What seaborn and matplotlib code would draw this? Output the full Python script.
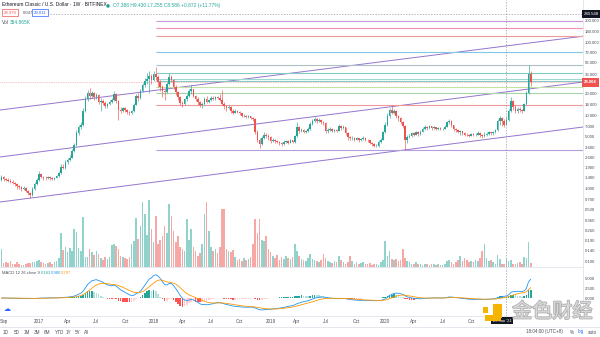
import numpy as np
import pandas as pd
import matplotlib
matplotlib.use("Agg")
import matplotlib.pyplot as plt
import matplotlib.transforms as mtransforms
import matplotlib.patheffects as pe
from matplotlib.patches import Rectangle
from matplotlib.ticker import NullLocator
import seaborn as sns

# ---------------- weekly ETC/USD candles (Bitfinex) ----------------
first_week = "2016-09-05"
first_open = 1.30
close = [
    1.42, 1.32, 1.30, 1.26, 1.22, 1.18, 1.12, 1.05, 1.02, 0.98,
    1.00, 0.92, 0.85, 0.80, 0.98, 1.15, 1.28, 1.55, 1.42, 1.38,
    1.36, 1.40, 1.35, 1.32, 1.38, 1.45, 1.62, 1.95, 1.90, 2.25,
    2.45, 2.60, 3.20, 3.90, 5.60, 6.90, 7.20, 11.5, 16.5, 20.0,
    18.5, 19.8, 17.5, 18.8, 15.0, 15.8, 14.8, 13.2, 14.0, 15.2,
    16.0, 19.5, 15.6, 11.8, 11.5, 12.4, 11.6, 10.9, 10.6, 11.2,
    13.8, 18.5, 17.0, 21.0, 25.5, 29.0, 31.5, 34.0, 30.5, 36.0,
    33.0, 28.5, 24.5, 21.0, 20.5, 27.0, 33.0, 30.0, 24.0, 20.5,
    17.5, 14.5, 14.0, 16.5, 18.5, 21.0, 22.5, 18.5, 16.8, 15.0,
    13.5, 14.2, 16.5, 15.2, 16.0, 17.2, 16.6, 17.8, 17.0, 16.2,
    14.0, 13.2, 12.5, 12.8, 11.5, 10.8, 11.3, 11.0, 10.5, 9.8,
    9.8, 9.5, 9.6, 9.2, 8.8, 5.8, 4.6, 4.0, 4.9, 5.4,
    5.2, 5.0, 4.4, 4.6, 4.4, 4.3, 4.2, 4.0, 4.3, 4.4,
    4.2, 4.5, 4.3, 5.1, 6.8, 6.1, 6.3, 5.9, 6.0, 6.4,
    7.6, 8.4, 8.9, 8.2, 8.5, 8.0, 7.8, 6.0, 6.2, 6.5,
    6.0, 6.2, 6.1, 7.0, 6.6, 6.8, 5.6, 5.0, 4.8, 4.9,
    4.6, 4.8, 4.5, 4.7, 4.9, 4.6, 4.5, 4.2, 4.0, 3.8,
    3.8, 4.3, 4.6, 5.8, 7.2, 9.8, 11.8, 10.8, 11.2, 9.6,
    9.0, 8.0, 7.0, 4.6, 5.0, 5.2, 5.6, 5.4, 5.8, 5.5,
    5.9, 6.4, 6.9, 6.6, 7.0, 6.6, 6.8, 6.5, 6.7, 6.4,
    6.5, 6.9, 7.9, 8.3, 7.2, 6.4, 6.2, 5.9, 6.0, 5.6,
    5.4, 5.3, 5.2, 5.5, 5.3, 5.4, 5.7, 5.3, 5.1, 5.4,
    5.5, 5.8, 5.6, 5.9, 6.3, 8.2, 9.0, 8.4, 7.388, 8.586,
    11.5, 15.5, 13.0, 11.2, 12.2, 11.8, 11.4, 14.0, 20.0, 36.0, 28.004,
]
high = [
    1.50, 1.46, 1.38, 1.35, 1.31, 1.27, 1.22, 1.16, 1.10, 1.06,
    1.05, 1.03, 0.95, 0.88, 1.02, 1.20, 1.35, 1.72, 1.60, 1.48,
    1.44, 1.46, 1.44, 1.40, 1.43, 1.52, 1.70, 2.10, 2.15, 2.40,
    2.60, 2.80, 3.40, 4.20, 6.20, 7.40, 8.00, 12.5, 18.0, 22.0,
    23.5, 21.5, 20.5, 20.0, 19.5, 17.0, 16.5, 15.5, 14.8, 16.0,
    17.0, 21.0, 20.0, 16.0, 12.8, 13.0, 12.8, 12.0, 11.4, 11.8,
    14.5, 19.5, 20.0, 22.5, 27.5, 32.0, 38.0, 40.0, 36.0, 40.0,
    46.0, 35.0, 30.0, 26.0, 23.0, 28.5, 38.0, 35.0, 31.0, 25.5,
    21.5, 18.5, 15.5, 17.2, 19.5, 22.5, 25.5, 23.0, 19.0, 17.5,
    15.5, 15.0, 17.8, 18.5, 16.8, 18.0, 18.2, 18.5, 18.5, 19.5,
    22.0, 15.0, 13.8, 13.5, 13.2, 11.9, 11.9, 11.7, 11.4, 10.8,
    10.2, 10.1, 9.9, 9.8, 9.5, 9.0, 6.2, 4.8, 5.2, 5.8,
    5.7, 5.5, 5.1, 4.8, 4.7, 4.5, 4.4, 4.3, 4.5, 4.6,
    4.6, 4.7, 4.6, 5.4, 8.0, 7.0, 6.7, 6.4, 6.3, 6.8,
    8.0, 8.9, 9.5, 9.2, 9.0, 8.8, 8.4, 8.0, 6.6, 6.9,
    6.7, 6.5, 6.4, 7.5, 7.2, 7.3, 6.9, 5.8, 5.2, 5.1,
    5.0, 5.0, 4.9, 4.9, 5.1, 5.0, 4.7, 4.6, 4.3, 4.1,
    4.0, 4.5, 4.8, 6.0, 8.0, 10.5, 12.5, 13.5, 12.2, 11.6,
    10.0, 9.4, 8.3, 7.2, 5.3, 5.5, 5.9, 5.8, 6.1, 6.0,
    6.2, 6.8, 7.4, 7.1, 7.3, 7.1, 7.0, 6.9, 6.9, 6.8,
    6.7, 7.2, 8.4, 8.9, 8.5, 7.4, 6.6, 6.4, 6.3, 6.1,
    5.8, 5.6, 5.5, 5.7, 5.6, 5.6, 6.0, 5.9, 5.5, 5.8,
    5.9, 6.1, 5.9, 6.1, 6.5, 8.8, 9.6, 9.5, 8.7, 9.430,
    12.2, 17.6, 16.0, 13.6, 13.0, 12.8, 12.2, 14.6, 21.0, 48.0, 40.0,
]
low = [
    1.25, 1.26, 1.24, 1.20, 1.17, 1.12, 1.06, 0.98, 0.96, 0.92,
    0.94, 0.88, 0.80, 0.74, 0.78, 0.95, 1.10, 1.24, 1.36, 1.30,
    1.30, 1.32, 1.30, 1.28, 1.29, 1.35, 1.42, 1.58, 1.80, 1.85,
    2.15, 2.35, 2.55, 3.10, 3.80, 5.40, 6.50, 7.00, 11.0, 15.5,
    16.5, 17.0, 16.0, 16.5, 14.0, 11.5, 13.8, 12.5, 12.6, 13.5,
    14.8, 15.5, 14.8, 8.5, 10.5, 11.0, 11.0, 10.3, 10.1, 10.3,
    11.0, 13.5, 15.5, 16.5, 20.5, 24.5, 27.0, 20.0, 27.0, 29.5,
    30.0, 24.5, 21.5, 17.5, 16.0, 20.0, 26.0, 28.0, 23.0, 19.0,
    16.0, 13.8, 13.0, 13.5, 15.8, 17.8, 19.5, 17.5, 15.5, 13.8,
    12.8, 12.6, 13.8, 14.5, 14.6, 15.5, 16.0, 16.2, 16.4, 15.5,
    13.5, 12.0, 11.5, 12.0, 10.8, 10.2, 10.5, 10.6, 10.0, 9.4,
    9.4, 9.2, 9.2, 8.9, 8.4, 5.5, 4.3, 3.5, 3.9, 4.7,
    4.8, 4.6, 4.2, 4.3, 4.2, 4.1, 3.9, 3.8, 3.9, 4.1,
    4.0, 4.1, 4.2, 4.2, 5.0, 5.6, 5.8, 5.6, 5.6, 5.8,
    6.2, 7.3, 8.0, 7.8, 7.9, 7.6, 7.3, 5.6, 5.6, 6.0,
    5.8, 5.8, 5.8, 6.0, 6.3, 6.4, 5.3, 4.6, 4.5, 4.6,
    4.4, 4.5, 4.3, 4.4, 4.6, 4.4, 4.3, 4.0, 3.8, 3.6,
    3.6, 3.7, 4.2, 4.5, 5.6, 7.0, 9.2, 10.2, 10.2, 9.0,
    8.3, 7.6, 6.6, 3.3, 4.2, 4.8, 5.0, 5.1, 5.3, 5.2,
    5.4, 5.8, 6.2, 6.3, 6.5, 6.3, 6.4, 6.3, 6.3, 6.2,
    6.2, 6.4, 6.8, 7.6, 6.9, 6.1, 5.9, 5.6, 5.4, 5.3,
    5.1, 5.1, 5.0, 5.1, 5.1, 5.1, 5.3, 5.0, 4.8, 5.0,
    5.2, 5.3, 5.3, 5.4, 5.7, 6.1, 7.4, 7.0, 6.8, 7.255,
    8.3, 11.0, 11.6, 10.6, 10.8, 11.0, 10.8, 11.2, 13.5, 19.5, 25.0,
]
volume_k = [
    780, 160, 220, 170, 260, 140, 120, 200, 150, 110,
    90, 130, 170, 160, 240, 200, 260, 320, 210, 180,
    150, 170, 200, 150, 230, 280, 380, 1500, 760, 900,
    650, 820, 720, 1680, 1560, 850, 700, 2200, 460, 440,
    800, 650, 520, 700, 560, 380, 300, 420, 350, 460,
    980, 1020, 940, 800, 500, 420, 380, 350, 460, 1000,
    1150, 2150, 1230, 1800, 2850, 2330, 1400, 2950, 1670, 1100,
    2250, 1000, 1200, 1360, 1800, 1500, 2770, 2250, 1580, 1100,
    1360, 900, 800, 700, 2100, 1200, 1670, 880, 700, 500,
    600, 1000, 2330, 2850, 1580, 900, 700, 800, 600, 900,
    2550, 2550, 800, 700, 660, 750, 450, 300, 350, 250,
    400, 300, 350, 450, 1000, 2100, 1500, 2100, 1200, 1150,
    1360, 800, 650, 500, 400, 550, 300, 450, 350, 500,
    400, 350, 450, 1000, 700, 500, 350, 300, 250, 400,
    560, 350, 300, 250, 200, 300, 560, 400, 250, 200,
    180, 250, 200, 480, 300, 200, 150, 200, 480, 250,
    150, 200, 130, 180, 220, 150, 120, 180, 100, 150,
    120, 100, 200, 300, 1150, 500, 700, 350, 300, 350,
    250, 300, 800, 400, 250, 200, 150, 120, 200, 150,
    130, 100, 150, 120, 100, 150, 130, 100, 120, 90,
    100, 150, 260, 300, 200, 150, 200, 300, 480, 250,
    400, 300, 200, 250, 220, 300, 250, 400, 700, 1000,
    400, 250, 300, 200, 150, 550, 350, 150, 120, 354.865,
    250, 300, 150, 120, 160, 200, 150, 450, 400, 1100, 180,
]

# crosshair bar and its readouts
cross_idx = 229
cross_price = 240.548
legend_ohlc = "O7.388 H9.430 L7.255 C8.586 +0.872 (+11.77%)"
legend_vol = "354.865K"
macd_readout = ["0.183", "0.980", "0.797"]
bid_ask = ["28.970", "0.047", "29.011"]

# drawn levels (start at the Jan-2018 top) and the parallel channel
level_start = 70
level_prices = [191, 155, 119, 74, 48.4, 37.6, 31.0, 29.3, 24.2, 20.0, 13.7, 3.31]
level_colors = ["#ce93d8", "#f48fb1", "#ef9a9a", "#81c8e6", "#b0bec5", "#80cbc4",
                "#9fd8d2", "#80cbc4", "#c5e1a5", "#a5d6a7", "#ef9a9a", "#b39ddb"]
channel_x = [-0.7, 263.7]
channel_upper = [11.7, 120.0]
channel_mid = [2.66, 28.3]
channel_low = [0.643, 6.85]

price_ticks = [200, 140, 100, 72, 52, 36, 20, 14, 10, 7, 5, 3.6, 2.6, 1.9, 1.4,
               1.0, 0.7, 0.5, 0.36, 0.26, 0.19, 0.14, 0.1]
macd_ticks = [5.0, 2.5, 0.0]

# ---------------- styling ----------------
sns.set_theme(style="white")
plt.rcParams["font.family"] = ["Liberation Sans", "Noto Sans CJK SC", "DejaVu Sans"]
UP, DN = "#26a69a", "#ef5350"
TXT = "#4a4e5a"
GRID = "#e0e3eb"

W, H = 600, 337
fig = plt.figure(figsize=(W / 100, H / 100), dpi=100)
fig.patch.set_facecolor("white")


def fx(px):
    return px / W


def fy(py):
    return 1 - py / H


main_rect = [0, fy(267), fx(583), fy(0) - fy(267)]
macd_rect = [0, fy(316), fx(583), fy(268) - fy(316)]
axv = fig.add_axes(main_rect)
ax = fig.add_axes(main_rect, sharex=axv)
axm = fig.add_axes(macd_rect, sharex=axv)
ax.patch.set_visible(False)

n = len(close)
idx = np.arange(n)
c = np.array(close)
o = np.r_[first_open, c[:-1]]
hi = np.array(high)
lo = np.array(low)
is_up = c >= o
col = np.where(is_up, UP, DN)
weeks = pd.date_range(first_week, periods=n, freq="W-MON")

XMIN, XMAX = -0.68, 263.7
axv.set_xlim(XMIN, XMAX)

# volume, underneath the candles
vol_col = [(0.149, 0.651, 0.604, 0.5) if u else (0.937, 0.325, 0.314, 0.5) for u in is_up]
axv.bar(idx, volume_k, width=0.72, color=vol_col, linewidth=0)
axv.set_ylim(0, 11750)
axv.set_axis_off()

# price pane
ax.set_yscale("log")
ax.set_ylim(0.0828, 376.1)
for xs, ys in [(channel_x, channel_upper), (channel_x, channel_mid), (channel_x, channel_low)]:
    ax.plot(xs, ys, color="#9575cd", lw=0.7, zorder=2)
ax.hlines(level_prices, level_start, XMAX, colors=level_colors, lw=0.8, zorder=2)
ax.axhline(close[-1], color=DN, lw=0.5, ls=(0, (1, 1.5)), alpha=0.7, zorder=2)
ax.hlines(cross_price, 22, XMAX, colors="#9598a1", lw=0.5, linestyles=(0, (2, 2)), zorder=2)
ax.vlines(idx, lo, hi, colors=col, linewidth=0.45, zorder=3)
ax.bar(idx, np.abs(c - o), bottom=np.minimum(o, c), width=0.72, color=col, linewidth=0, zorder=4)

LAB = 3.1
ax.yaxis.tick_right()
ax.set_yticks(price_ticks)
ax.set_yticklabels([f"{p:.3f}" for p in price_ticks])
ax.yaxis.set_minor_locator(NullLocator())
ax.tick_params(axis="y", length=0, pad=1.2, labelsize=LAB, labelcolor=TXT)
ax.tick_params(axis="x", bottom=False, labelbottom=False)
for s in ["top", "left"]:
    ax.spines[s].set_visible(False)
for s in ["right", "bottom"]:
    ax.spines[s].set_color(GRID)
    ax.spines[s].set_linewidth(0.6)
ax.grid(False)

# MACD pane
s_close = pd.Series(c)
ema12 = s_close.ewm(span=12, adjust=False).mean()
ema26 = s_close.ewm(span=26, adjust=False).mean()
macd = (ema12 - ema26).to_numpy()
signal = pd.Series(macd).ewm(span=9, adjust=False).mean().to_numpy()
hist = macd - signal
prev = np.r_[hist[0], hist[:-1]]
hist_col = np.where(hist >= 0, np.where(hist >= prev, "#26a69a", "#b2dfdb"),
                    np.where(hist < prev, "#ff5252", "#ffcdd2"))
axm.bar(idx, hist, width=0.72, color=hist_col, linewidth=0)
sns.lineplot(x=idx, y=macd, ax=axm, color="#2196f3", linewidth=0.6, legend=False)
sns.lineplot(x=idx, y=signal, ax=axm, color="#ff9800", linewidth=0.6, legend=False)
axm.set_ylim(-4.5, 7.5)
axm.yaxis.tick_right()
axm.set_yticks(macd_ticks)
axm.set_yticklabels([f"{v:.3f}" for v in macd_ticks])
axm.tick_params(axis="y", length=0, pad=1.2, labelsize=LAB, labelcolor=TXT)
for s in ["top", "left"]:
    axm.spines[s].set_visible(False)
for s in ["right", "bottom"]:
    axm.spines[s].set_color(GRID)
    axm.spines[s].set_linewidth(0.6)
axm.set_ylabel("")
axm.grid(False)

# time axis: quarter months, years in place of January (the last ones sit under the crosshair tag)
tick_pos, tick_lab = [1], ["Sep"]
for i in range(8, n):
    d, dp = weeks[i], weeks[i - 1]
    if d.month != dp.month and d.month in (1, 4, 7, 10) and i < cross_idx - 6:
        tick_pos.append(i)
        tick_lab.append(str(d.year) if d.month == 1 else d.strftime("%b"))
axm.set_xticks(tick_pos)
axm.set_xticklabels(tick_lab)
axm.tick_params(axis="x", length=0, pad=2.2, labelsize=LAB + 0.2, labelcolor=TXT)
axm.set_xlim(XMIN, XMAX)

# crosshair
for a in (ax, axm):
    a.axvline(cross_idx, color="#9598a1", lw=0.5, ls=(0, (2, 2)), zorder=5)

# ---------------- legends ----------------
fs = 3.5
fig.text(fx(2), fy(5), "Ethereum Classic / U.S. Dollar \u00b7 1W \u00b7 BITFINEX", fontsize=fs,
         color="#131722", va="center")
fig.text(fx(106), fy(5), "\u25cf", fontsize=3.3, color=UP, va="center", family="DejaVu Sans")
fig.text(fx(113), fy(5), legend_ohlc, fontsize=fs, color=UP, va="center")
fig.text(fx(4), fy(12.5), bid_ask[0], fontsize=3.1, color=DN, va="center",
         bbox=dict(boxstyle="square,pad=0.35", fc="white", ec=DN, lw=0.5))
fig.text(fx(23), fy(12.5), bid_ask[1], fontsize=3.1, color=TXT, va="center")
fig.text(fx(34), fy(12.5), bid_ask[2], fontsize=3.1, color="#2962ff", va="center",
         bbox=dict(boxstyle="square,pad=0.35", fc="white", ec="#2962ff", lw=0.5))
fig.text(fx(2), fy(22.5), "Vol", fontsize=fs, color=TXT, va="center")
fig.text(fx(10), fy(22.5), legend_vol, fontsize=fs, color=UP, va="center")
fig.text(fx(2), fy(273), "MACD 12 26 close 9", fontsize=3.0, color=TXT, va="center")
for xpx, val, cc in zip([41, 51, 61], macd_readout, ["#26a69a", "#2196f3", "#ff9800"]):
    fig.text(fx(xpx), fy(273), val, fontsize=3.0, color=cc, va="center")

# price tags on the right scale
tag_tf = mtransforms.blended_transform_factory(fig.transFigure, ax.transData)
ax.text(fx(584), close[-1], f"{close[-1]:.3f}", transform=tag_tf, fontsize=3.1, color="white",
        fontweight="bold", va="center", ha="left", clip_on=False,
        bbox=dict(boxstyle="square,pad=0.5", fc=DN, ec="none"))
ax.text(fx(584), cross_price, f"{cross_price:.3f}", transform=tag_tf, fontsize=3.1, color="white",
        va="center", ha="left", clip_on=False,
        bbox=dict(boxstyle="square,pad=0.45", fc="#131722", ec="none"))

# crosshair date tag, partly under the publisher mark
date_tf = mtransforms.blended_transform_factory(axm.transData, fig.transFigure)
axm.text(cross_idx - 2, fy(320.5), weeks[cross_idx].strftime("%d %b '%y"), transform=date_tf,
         fontsize=3.0, color="white", ha="center", va="center", clip_on=False,
         bbox=dict(boxstyle="square,pad=0.4", fc="#131722", ec="none"), zorder=6)

# bottom toolbar
fig.add_artist(plt.Line2D([0, 1], [fy(326.5), fy(326.5)], color=GRID, lw=0.6))
for xpx, lab in zip([3, 14, 24, 34, 44, 55, 66, 75, 84],
                    ["1D", "5D", "1M", "3M", "6M", "YTD", "1Y", "5Y", "All"]):
    fig.text(fx(xpx), fy(332), lab, fontsize=3.3, color=TXT, va="center")
fig.text(fx(526), fy(332), "18:04:00 (UTC+8)", fontsize=3.3, color=TXT, va="center")
fig.text(fx(570), fy(332), "%", fontsize=3.3, color=TXT, va="center")
fig.text(fx(578), fy(332), "log", fontsize=3.3, color="#2962ff", va="center")
fig.text(fx(588), fy(332), "auto", fontsize=3.3, color=TXT, va="center")
fig.text(fx(4), fy(309), "\u2601", fontsize=5, color="#2962ff", va="center", family="DejaVu Sans")

# publisher watermark
gold = "#f5b400"
for (x0, y0, w, h) in [(483, 307, 5, 6), (493, 304, 9, 14), (485, 315, 16, 6)]:
    fig.add_artist(Rectangle((fx(x0), fy(y0 + h)), w / W, h / H, transform=fig.transFigure,
                             fc=gold, ec="none", zorder=10))
fig.text(fx(512), fy(312), "\u91d1\u8272\u8d22\u7ecf", fontsize=14.5, color="#d9d9d9",
         va="center", family=["Noto Sans CJK SC", "DejaVu Sans"], zorder=10,
         path_effects=[pe.withStroke(linewidth=1.2, foreground="#b0b0b0")])

fig.savefig("out.png", dpi=100, facecolor="white")
